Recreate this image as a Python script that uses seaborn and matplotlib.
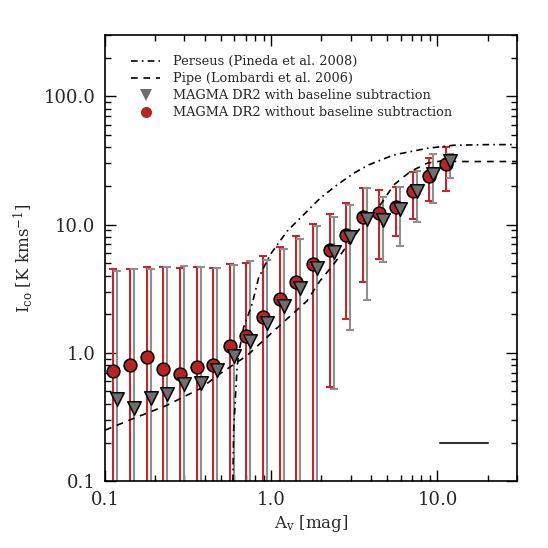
import matplotlib
matplotlib.use("Agg")
import matplotlib.pyplot as plt
from matplotlib.lines import Line2D
from matplotlib.ticker import LogLocator, NullFormatter
import numpy as np
import pandas as pd
import seaborn as sns

# binned A_V centres (mag)
av = [0.112, 0.141, 0.178, 0.224, 0.282, 0.355, 0.447, 0.562, 0.708, 0.891, 1.12,
      1.41, 1.78, 2.24, 2.82, 3.55, 4.47, 5.62, 7.08, 8.91, 11.2]

# MAGMA DR2 without baseline subtraction
ico_nobase = [0.72, 0.81, 0.935, 0.75, 0.69, 0.77, 0.81, 1.14, 1.35, 1.89, 2.62,
              3.57, 4.9, 6.3, 8.26, 11.5, 12.2, 13.6, 18.4, 24.1, 29.5]
nobase_hi = [4.48, 4.53, 4.69, 4.64, 4.56, 4.67, 4.61, 4.90, 5.04, 5.68, 6.67,
             8.11, 10.1, 12.1, 14.6, 19.2, 18.7, 19.5, 25.9, 32.8, 40.6]
nobase_lo = [0.01, 0.01, 0.01, 0.01, 0.01, 0.01, 0.01, 0.01, 0.01, 0.01, 0.01,
             0.01, 0.01, 0.54, 1.85, 3.59, 5.38, 8.16, 11.0, 15.2, 18.3]

# MAGMA DR2 with baseline subtraction
ico_base = [0.44, 0.375, 0.445, 0.48, 0.57, 0.58, 0.73, 0.94, 1.24, 1.70, 2.33,
            3.19, 4.61, 6.13, 7.97, 11.0, 10.8, 13.3, 18.4, 24.7, 31.3]
base_hi = [4.34, 4.48, 4.48, 4.69, 4.75, 4.67, 4.61, 4.83, 5.2, 5.26, 6.4,
           7.78, 9.7, 11.5, 14.3, 19.2, 16.3, 19.5, 26.3, 35.3, 35.7]
base_lo = [0.01, 0.01, 0.01, 0.01, 0.01, 0.01, 0.01, 0.01, 0.01, 0.01, 0.01,
           0.01, 0.01, 0.52, 1.52, 2.56, 5.13, 6.75, 10.5, 14.7, 23.0]

# reference relations
perseus_av = [0.587, 0.593, 0.605, 0.621, 0.635, 0.681, 0.766, 0.838, 0.986, 1.243,
              1.567, 1.97, 2.49, 3.13, 3.85, 5.46, 8.67, 12.5, 20.0, 30.0]
perseus_ico = [0.10, 0.25, 0.40, 0.75, 0.98, 1.58, 2.40, 3.85, 5.85, 8.87,
               11.97, 16.1, 20.4, 25.1, 29.2, 34.9, 39.3, 41.5, 42.0, 42.0]
pipe_av = [0.1, 0.148, 0.235, 0.373, 0.493, 0.714, 0.986, 1.243, 1.64, 1.95,
           2.37, 2.99, 3.68, 4.54, 5.46, 6.87, 8.67, 10.9, 13.0, 30.0]
pipe_ico = [0.25, 0.308, 0.39, 0.526, 0.69, 0.953, 1.40, 1.84, 2.54, 3.6,
            4.9, 7.43, 10.6, 14.3, 20.4, 25.9, 30.1, 31.5, 31.0, 31.0]

# short horizontal bar at lower right
bar_av = [10.3, 20.1]
bar_ico = [0.2, 0.2]

RED = "#b52528"
RED_ERR = "#c4262b"
GRAY = "#6e6e6e"
GRAY_ERR = "#8e8e8e"


def main() -> None:
    sns.set_theme(style="ticks")
    plt.rcParams["font.family"] = ["DejaVu Serif"]
    plt.rcParams["mathtext.fontset"] = "dejavuserif"

    av_arr = np.array(av)
    av_shift = av_arr * 1.057

    df = pd.DataFrame({
        "av": av_arr, "av_s": av_shift,
        "nobase": ico_nobase, "base": ico_base,
    })

    fig = plt.figure(figsize=(5.48, 5.48), dpi=100)
    ax = fig.add_axes([0.192, 0.122, 0.751, 0.814])
    ax.set_xscale("log")
    ax.set_yscale("log")

    # error bars
    nb = np.array(ico_nobase)
    ax.errorbar(av_arr, nb, yerr=[nb - np.array(nobase_lo), np.array(nobase_hi) - nb],
                fmt="none", ecolor=RED_ERR, elinewidth=1.5, capsize=2.6,
                capthick=1.5, zorder=2)
    bs = np.array(ico_base)
    ax.errorbar(av_shift, bs, yerr=[bs - np.array(base_lo), np.array(base_hi) - bs],
                fmt="none", ecolor=GRAY_ERR, elinewidth=1.5, capsize=2.6,
                capthick=1.5, zorder=2)

    # model curves
    sns.lineplot(x=perseus_av, y=perseus_ico, sort=False, estimator=None, ax=ax,
                 color="black", linewidth=1.2, linestyle=(0, (4, 2.5, 1, 2.5)), zorder=3)
    sns.lineplot(x=pipe_av, y=pipe_ico, sort=False, estimator=None, ax=ax,
                 color="black", linewidth=1.2, linestyle=(0, (4, 3.5)), zorder=3)
    sns.lineplot(x=bar_av, y=bar_ico, sort=False, estimator=None, ax=ax,
                 color="#333333", linewidth=1.5, zorder=3)

    # markers
    sns.scatterplot(data=df, x="av", y="nobase", ax=ax, marker="o", s=85,
                    color=RED, edgecolor="black", linewidth=1.1, zorder=4)
    sns.scatterplot(data=df, x="av_s", y="base", ax=ax, marker="v", s=95,
                    color=GRAY, edgecolor="black", linewidth=1.1, zorder=5)

    ax.set_xlim(0.1, 30)
    ax.set_ylim(0.1, 300)

    ax.set_xticks([0.1, 1.0, 10.0], ["0.1", "1.0", "10.0"])
    ax.set_yticks([0.1, 1.0, 10.0, 100.0], ["0.1", "1.0", "10.0", "100.0"])
    ax.xaxis.set_minor_locator(LogLocator(base=10, subs=np.arange(2, 10)))
    ax.yaxis.set_minor_locator(LogLocator(base=10, subs=np.arange(2, 10)))
    ax.xaxis.set_minor_formatter(NullFormatter())
    ax.yaxis.set_minor_formatter(NullFormatter())
    ax.tick_params(which="both", direction="in", top=True, right=True,
                   color="black", labelsize=13, width=1.0)
    ax.tick_params(which="major", length=8, pad=7)
    ax.tick_params(which="minor", length=4)
    for sp in ax.spines.values():
        sp.set_linewidth(1.2)
        sp.set_color("black")

    ax.set_xlabel(r"A$_\mathrm{v}$ [mag]", fontsize=12, labelpad=3)
    ax.set_ylabel(r"I$_\mathrm{co}$ [K kms$^{-1}$]", fontsize=12, labelpad=6)

    handles = [
        Line2D([], [], color="black", linewidth=1.2, linestyle=(0, (4, 2.5, 1, 2.5))),
        Line2D([], [], color="black", linewidth=1.2, linestyle=(0, (4, 3.5))),
        Line2D([], [], linestyle="none", marker="v", markersize=8, color=GRAY,
               markeredgewidth=0),
        Line2D([], [], linestyle="none", marker="o", markersize=8, color=RED,
               markeredgewidth=0),
    ]
    labels = [
        "Perseus (Pineda et al. 2008)",
        "Pipe (Lombardi et al. 2006)",
        "MAGMA DR2 with baseline subtraction",
        "MAGMA DR2 without baseline subtraction",
    ]
    ax.legend(handles, labels, loc="upper left", bbox_to_anchor=(0.051, 0.966),
              frameon=False, prop={"size": 9.3}, handlelength=2.2, handletextpad=1.0,
              labelspacing=0.3, borderaxespad=0.0, borderpad=0.4)

    plt.savefig("out.png", dpi=100)
    plt.close(fig)


if __name__ == "__main__":
    main()
